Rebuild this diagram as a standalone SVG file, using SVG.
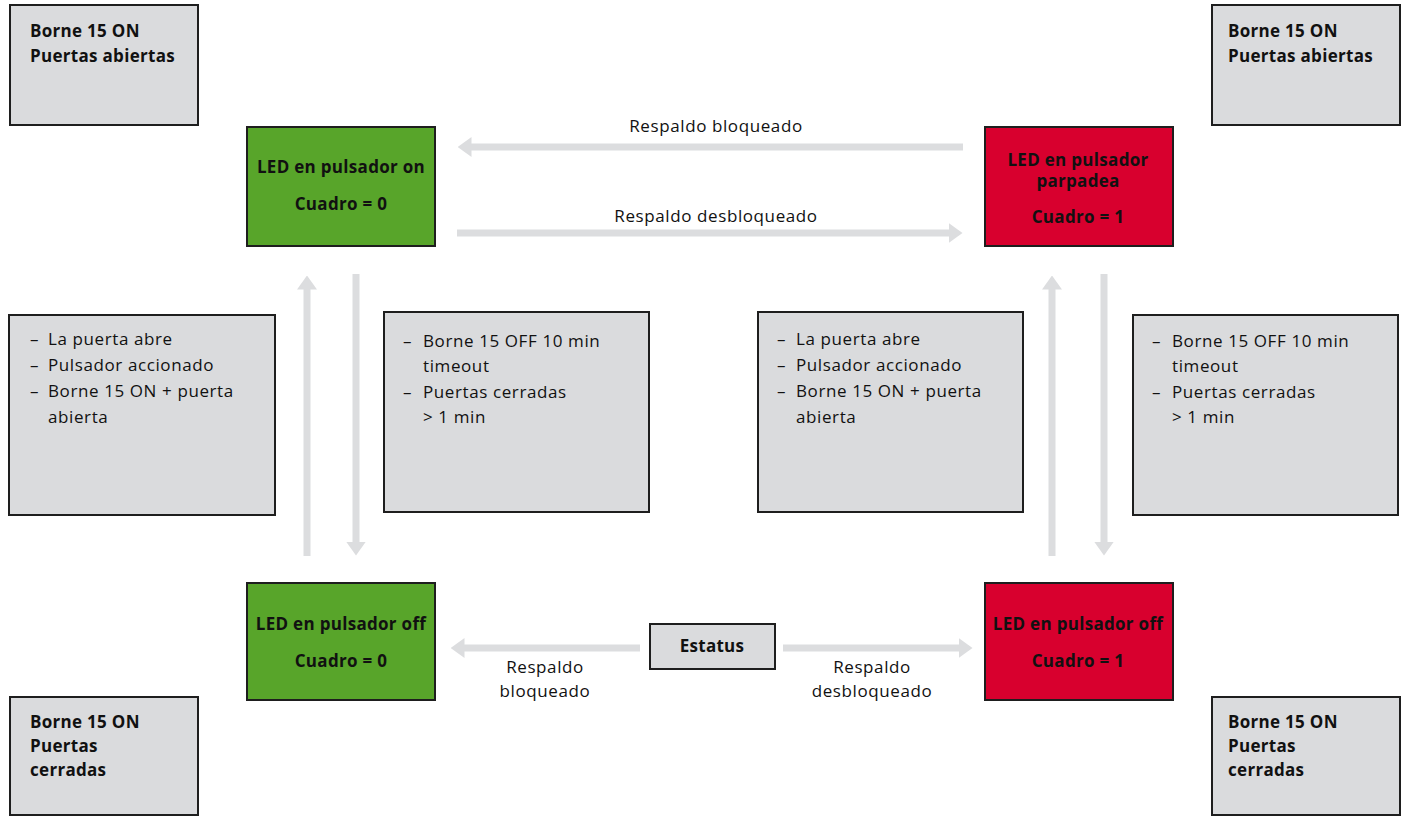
<svg xmlns="http://www.w3.org/2000/svg" width="1407" height="816" viewBox="0 0 1407 816">
  <style>
    .box { fill: #dadbdd; stroke: #1e1e1e; stroke-width: 2; }
    .green { fill: #58a52a; stroke: #1e1e1e; stroke-width: 2; }
    .red { fill: #d8002e; stroke: #1e1e1e; stroke-width: 2; }
    .b { font-family: "Open Sans", "Noto Sans", sans-serif; font-weight: 700; font-size: 17px; letter-spacing: 0.3px; fill: #111; }
    .t { font-family: "Open Sans", "Noto Sans", sans-serif; font-weight: 400; font-size: 17px; letter-spacing: 0.6px; fill: #111; }
    .c { text-anchor: middle; }
    .arrow { stroke: #dcdddf; stroke-width: 7; fill: none; marker-end: url(#head); }
  </style>
  <defs>
    <marker id="head" markerUnits="userSpaceOnUse" markerWidth="14" markerHeight="20" refX="0.5" refY="10" orient="auto">
      <path d="M0,0 L14,10 L0,20 Z" fill="#dcdddf"/>
    </marker>
  </defs>
  <rect width="1407" height="816" fill="#ffffff"/>

  <!-- corner condition boxes -->
  <g id="corner-tl">
    <rect class="box" x="10" y="5" width="188" height="120"/>
    <text class="b" x="30" y="37">Borne 15 ON</text>
    <text class="b" x="30" y="62">Puertas abiertas</text>
  </g>
  <g id="corner-tr">
    <rect class="box" x="1212" y="5" width="188" height="120"/>
    <text class="b" x="1228" y="37">Borne 15 ON</text>
    <text class="b" x="1228" y="62">Puertas abiertas</text>
  </g>
  <g id="corner-bl">
    <rect class="box" x="10" y="697" width="188" height="118"/>
    <text class="b" x="30" y="728">Borne 15 ON</text>
    <text class="b" x="30" y="752">Puertas</text>
    <text class="b" x="30" y="776">cerradas</text>
  </g>
  <g id="corner-br">
    <rect class="box" x="1212" y="697" width="188" height="118"/>
    <text class="b" x="1228" y="728">Borne 15 ON</text>
    <text class="b" x="1228" y="752">Puertas</text>
    <text class="b" x="1228" y="776">cerradas</text>
  </g>

  <!-- state nodes -->
  <g id="state-on-0">
    <rect class="green" x="247" y="127" width="188" height="119"/>
    <text class="b c" x="341" y="173">LED en pulsador on</text>
    <text class="b c" x="341" y="210">Cuadro = 0</text>
  </g>
  <g id="state-blink-1">
    <rect class="red" x="985" y="127" width="188" height="119"/>
    <text class="b c" x="1078" y="166">LED en pulsador</text>
    <text class="b c" x="1078" y="187">parpadea</text>
    <text class="b c" x="1078" y="223">Cuadro = 1</text>
  </g>
  <g id="state-off-0">
    <rect class="green" x="247" y="583" width="188" height="117"/>
    <text class="b c" x="341" y="630">LED en pulsador off</text>
    <text class="b c" x="341" y="667">Cuadro = 0</text>
  </g>
  <g id="state-off-1">
    <rect class="red" x="985" y="583" width="188" height="117"/>
    <text class="b c" x="1078" y="630">LED en pulsador off</text>
    <text class="b c" x="1078" y="667">Cuadro = 1</text>
  </g>
  <g id="estatus">
    <rect class="box" x="650" y="624" width="125" height="45"/>
    <text class="b c" x="712" y="652">Estatus</text>
  </g>

  <!-- transition condition boxes -->
  <g id="cond-up-left">
    <rect class="box" x="9" y="315" width="266" height="200"/>
    <text class="t" x="30" y="345">–</text>
    <text class="t" x="48" y="345">La puerta abre</text>
    <text class="t" x="30" y="371">–</text>
    <text class="t" x="48" y="371">Pulsador accionado</text>
    <text class="t" x="30" y="397">–</text>
    <text class="t" x="48" y="397">Borne 15 ON + puerta</text>
    <text class="t" x="48" y="423">abierta</text>
  </g>
  <g id="cond-down-left">
    <rect class="box" x="384" y="312" width="265" height="200"/>
    <text class="t" x="403" y="347">–</text>
    <text class="t" x="423" y="347">Borne 15 OFF 10 min</text>
    <text class="t" x="423" y="372">timeout</text>
    <text class="t" x="403" y="398">–</text>
    <text class="t" x="423" y="398">Puertas cerradas</text>
    <text class="t" x="423" y="423">&gt; 1 min</text>
  </g>
  <g id="cond-up-right">
    <rect class="box" x="758" y="312" width="265" height="200"/>
    <text class="t" x="777" y="345">–</text>
    <text class="t" x="796" y="345">La puerta abre</text>
    <text class="t" x="777" y="371">–</text>
    <text class="t" x="796" y="371">Pulsador accionado</text>
    <text class="t" x="777" y="397">–</text>
    <text class="t" x="796" y="397">Borne 15 ON + puerta</text>
    <text class="t" x="796" y="423">abierta</text>
  </g>
  <g id="cond-down-right">
    <rect class="box" x="1133" y="315" width="265" height="200"/>
    <text class="t" x="1152" y="347">–</text>
    <text class="t" x="1172" y="347">Borne 15 OFF 10 min</text>
    <text class="t" x="1172" y="372">timeout</text>
    <text class="t" x="1152" y="398">–</text>
    <text class="t" x="1172" y="398">Puertas cerradas</text>
    <text class="t" x="1172" y="423">&gt; 1 min</text>
  </g>

  <!-- connectors -->
  <g id="connectors">
    <line class="arrow" x1="963" y1="147" x2="471" y2="147"/>
    <line class="arrow" x1="457" y1="233" x2="949" y2="233"/>
    <line class="arrow" x1="307" y1="556" x2="307" y2="289"/>
    <line class="arrow" x1="356" y1="274" x2="356" y2="542"/>
    <line class="arrow" x1="1052" y1="556" x2="1052" y2="289"/>
    <line class="arrow" x1="1104" y1="274" x2="1104" y2="542"/>
    <line class="arrow" x1="640" y1="648" x2="464" y2="648"/>
    <line class="arrow" x1="783" y1="648" x2="959" y2="648"/>
    <text class="t c" x="716" y="132">Respaldo bloqueado</text>
    <text class="t c" x="716" y="222">Respaldo desbloqueado</text>
    <text class="t c" x="545" y="673">Respaldo</text>
    <text class="t c" x="545" y="697">bloqueado</text>
    <text class="t c" x="872" y="673">Respaldo</text>
    <text class="t c" x="872" y="697">desbloqueado</text>
  </g>
</svg>
